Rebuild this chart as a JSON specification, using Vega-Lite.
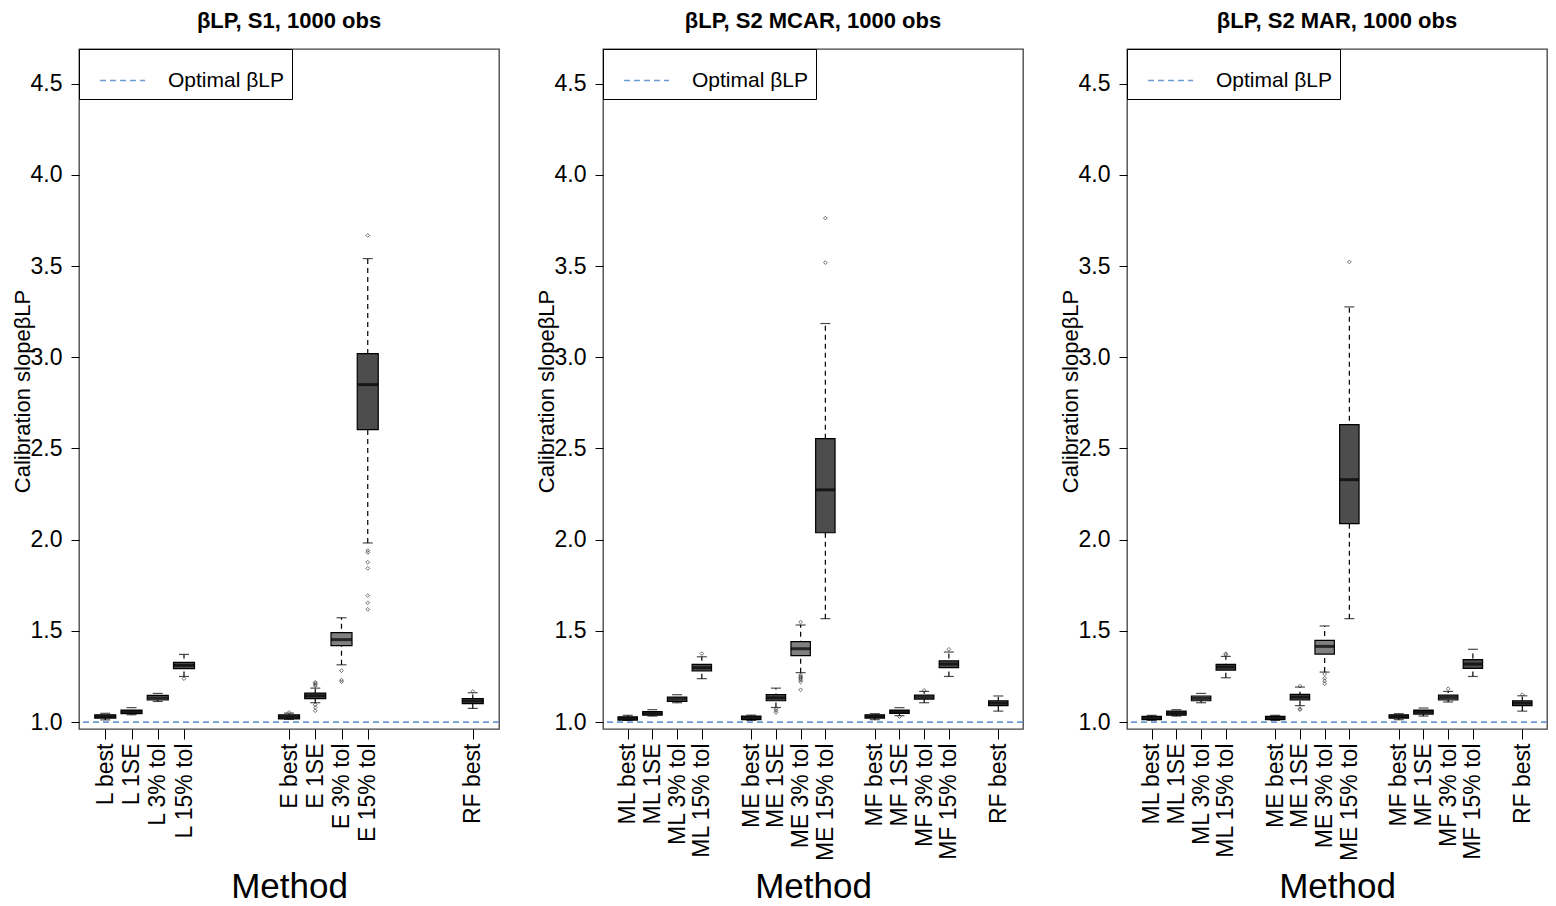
{
  "$schema": "https://vega.github.io/schema/vega-lite/v6.json",
  "background": "white",
  "padding": {"left": 10, "top": 8, "right": 5, "bottom": 0},
  "config": {
    "font": "Liberation Sans",
    "view": {"stroke": "#404040", "strokeWidth": 1.3},
    "axis": {"grid": false, "domain": false, "tickColor": "black", "tickWidth": 1, "labelColor": "black", "titleColor": "black", "labelFontSize": 23, "titleFontWeight": "normal", "labelFont": "Liberation Sans", "titleFont": "Liberation Sans"},
    "title": {"fontSize": 22, "fontWeight": "bold", "frame": "group", "color": "black", "offset": 16, "font": "Liberation Sans"}
  },
  "datasets": {
    "stats": [
      {"panel": "S1", "method": "L best", "lw": 1.012, "q1": 1.022, "med": 1.031, "q3": 1.040, "uw": 1.048},
      {"panel": "S1", "method": "L 1SE", "lw": 1.040, "q1": 1.046, "med": 1.057, "q3": 1.066, "uw": 1.079},
      {"panel": "S1", "method": "L 3% tol", "lw": 1.113, "q1": 1.121, "med": 1.133, "q3": 1.146, "uw": 1.157},
      {"panel": "S1", "method": "L 15% tol", "lw": 1.250, "q1": 1.293, "med": 1.311, "q3": 1.327, "uw": 1.371},
      {"panel": "S1", "method": "E best", "lw": 1.015, "q1": 1.018, "med": 1.029, "q3": 1.040, "uw": 1.049},
      {"panel": "S1", "method": "E 1SE", "lw": 1.106, "q1": 1.128, "med": 1.144, "q3": 1.159, "uw": 1.186},
      {"panel": "S1", "method": "E 3% tol", "lw": 1.314, "q1": 1.419, "med": 1.452, "q3": 1.490, "uw": 1.572},
      {"panel": "S1", "method": "E 15% tol", "lw": 1.982, "q1": 2.603, "med": 2.850, "q3": 3.020, "uw": 3.541},
      {"panel": "S1", "method": "RF best", "lw": 1.075, "q1": 1.101, "med": 1.115, "q3": 1.128, "uw": 1.161},
      {"panel": "MCAR", "method": "ML best", "lw": 1.009, "q1": 1.011, "med": 1.020, "q3": 1.029, "uw": 1.037},
      {"panel": "MCAR", "method": "ML 1SE", "lw": 1.033, "q1": 1.038, "med": 1.049, "q3": 1.058, "uw": 1.068},
      {"panel": "MCAR", "method": "ML 3% tol", "lw": 1.106, "q1": 1.113, "med": 1.126, "q3": 1.137, "uw": 1.150},
      {"panel": "MCAR", "method": "ML 15% tol", "lw": 1.238, "q1": 1.280, "med": 1.298, "q3": 1.316, "uw": 1.358},
      {"panel": "MCAR", "method": "ME best", "lw": 1.009, "q1": 1.013, "med": 1.024, "q3": 1.033, "uw": 1.038},
      {"panel": "MCAR", "method": "ME 1SE", "lw": 1.080, "q1": 1.117, "med": 1.133, "q3": 1.150, "uw": 1.186},
      {"panel": "MCAR", "method": "ME 3% tol", "lw": 1.271, "q1": 1.364, "med": 1.402, "q3": 1.441, "uw": 1.532},
      {"panel": "MCAR", "method": "ME 15% tol", "lw": 1.567, "q1": 2.038, "med": 2.273, "q3": 2.554, "uw": 3.185},
      {"panel": "MCAR", "method": "MF best", "lw": 1.013, "q1": 1.022, "med": 1.031, "q3": 1.040, "uw": 1.046},
      {"panel": "MCAR", "method": "MF 1SE", "lw": 1.035, "q1": 1.048, "med": 1.057, "q3": 1.066, "uw": 1.079},
      {"panel": "MCAR", "method": "MF 3% tol", "lw": 1.106, "q1": 1.126, "med": 1.137, "q3": 1.148, "uw": 1.168},
      {"panel": "MCAR", "method": "MF 15% tol", "lw": 1.250, "q1": 1.298, "med": 1.318, "q3": 1.336, "uw": 1.384},
      {"panel": "MCAR", "method": "RF best", "lw": 1.060, "q1": 1.090, "med": 1.104, "q3": 1.117, "uw": 1.143},
      {"panel": "MAR", "method": "ML best", "lw": 1.009, "q1": 1.013, "med": 1.022, "q3": 1.031, "uw": 1.037},
      {"panel": "MAR", "method": "ML 1SE", "lw": 1.033, "q1": 1.038, "med": 1.049, "q3": 1.060, "uw": 1.068},
      {"panel": "MAR", "method": "ML 3% tol", "lw": 1.106, "q1": 1.117, "med": 1.130, "q3": 1.143, "uw": 1.157},
      {"panel": "MAR", "method": "ML 15% tol", "lw": 1.243, "q1": 1.285, "med": 1.302, "q3": 1.316, "uw": 1.360},
      {"panel": "MAR", "method": "ME best", "lw": 1.009, "q1": 1.013, "med": 1.024, "q3": 1.031, "uw": 1.037},
      {"panel": "MAR", "method": "ME 1SE", "lw": 1.090, "q1": 1.121, "med": 1.137, "q3": 1.152, "uw": 1.192},
      {"panel": "MAR", "method": "ME 3% tol", "lw": 1.274, "q1": 1.373, "med": 1.415, "q3": 1.448, "uw": 1.527},
      {"panel": "MAR", "method": "ME 15% tol", "lw": 1.567, "q1": 2.088, "med": 2.329, "q3": 2.631, "uw": 3.276},
      {"panel": "MAR", "method": "MF best", "lw": 1.013, "q1": 1.022, "med": 1.031, "q3": 1.040, "uw": 1.046},
      {"panel": "MAR", "method": "MF 1SE", "lw": 1.033, "q1": 1.044, "med": 1.057, "q3": 1.066, "uw": 1.077},
      {"panel": "MAR", "method": "MF 3% tol", "lw": 1.110, "q1": 1.121, "med": 1.135, "q3": 1.148, "uw": 1.168},
      {"panel": "MAR", "method": "MF 15% tol", "lw": 1.250, "q1": 1.294, "med": 1.318, "q3": 1.342, "uw": 1.399},
      {"panel": "MAR", "method": "RF best", "lw": 1.060, "q1": 1.090, "med": 1.104, "q3": 1.117, "uw": 1.144}
    ],
    "outliers": [
      {"panel": "S1", "method": "L 15% tol", "value": 1.238},
      {"panel": "S1", "method": "E best", "value": 1.053},
      {"panel": "S1", "method": "E 1SE", "value": 1.218},
      {"panel": "S1", "method": "E 1SE", "value": 1.212},
      {"panel": "S1", "method": "E 1SE", "value": 1.205},
      {"panel": "S1", "method": "E 1SE", "value": 1.198},
      {"panel": "S1", "method": "E 1SE", "value": 1.095},
      {"panel": "S1", "method": "E 1SE", "value": 1.080},
      {"panel": "S1", "method": "E 1SE", "value": 1.062},
      {"panel": "S1", "method": "E 3% tol", "value": 1.282},
      {"panel": "S1", "method": "E 3% tol", "value": 1.230},
      {"panel": "S1", "method": "E 3% tol", "value": 1.221},
      {"panel": "S1", "method": "E 15% tol", "value": 3.668},
      {"panel": "S1", "method": "E 15% tol", "value": 1.940},
      {"panel": "S1", "method": "E 15% tol", "value": 1.930},
      {"panel": "S1", "method": "E 15% tol", "value": 1.876},
      {"panel": "S1", "method": "E 15% tol", "value": 1.843},
      {"panel": "S1", "method": "E 15% tol", "value": 1.693},
      {"panel": "S1", "method": "E 15% tol", "value": 1.654},
      {"panel": "S1", "method": "E 15% tol", "value": 1.618},
      {"panel": "S1", "method": "RF best", "value": 1.168},
      {"panel": "MCAR", "method": "ML 15% tol", "value": 1.375},
      {"panel": "MCAR", "method": "ME 1SE", "value": 1.073},
      {"panel": "MCAR", "method": "ME 1SE", "value": 1.063},
      {"panel": "MCAR", "method": "ME 1SE", "value": 1.053},
      {"panel": "MCAR", "method": "ME 3% tol", "value": 1.548},
      {"panel": "MCAR", "method": "ME 3% tol", "value": 1.258},
      {"panel": "MCAR", "method": "ME 3% tol", "value": 1.250},
      {"panel": "MCAR", "method": "ME 3% tol", "value": 1.244},
      {"panel": "MCAR", "method": "ME 3% tol", "value": 1.238},
      {"panel": "MCAR", "method": "ME 3% tol", "value": 1.230},
      {"panel": "MCAR", "method": "ME 3% tol", "value": 1.220},
      {"panel": "MCAR", "method": "ME 3% tol", "value": 1.177},
      {"panel": "MCAR", "method": "ME 15% tol", "value": 3.519},
      {"panel": "MCAR", "method": "ME 15% tol", "value": 3.763},
      {"panel": "MCAR", "method": "MF 1SE", "value": 1.030},
      {"panel": "MCAR", "method": "MF 3% tol", "value": 1.174},
      {"panel": "MCAR", "method": "MF 15% tol", "value": 1.399},
      {"panel": "MAR", "method": "ML 15% tol", "value": 1.375},
      {"panel": "MAR", "method": "ML 15% tol", "value": 1.369},
      {"panel": "MAR", "method": "ME 1SE", "value": 1.197},
      {"panel": "MAR", "method": "ME 1SE", "value": 1.073},
      {"panel": "MAR", "method": "ME 1SE", "value": 1.068},
      {"panel": "MAR", "method": "ME 3% tol", "value": 1.263},
      {"panel": "MAR", "method": "ME 3% tol", "value": 1.240},
      {"panel": "MAR", "method": "ME 3% tol", "value": 1.225},
      {"panel": "MAR", "method": "ME 3% tol", "value": 1.210},
      {"panel": "MAR", "method": "ME 15% tol", "value": 3.523},
      {"panel": "MAR", "method": "MF 3% tol", "value": 1.183},
      {"panel": "MAR", "method": "RF best", "value": 1.150}
    ],
    "optimal": [{"slope": 1.0}]
  },
  "hconcat": [
    {
      "width": 420, "height": 680,
      "title": {"text": "βLP, S1, 1000 obs"},
      "layer": [
        {
          "data": {"name": "optimal"},
          "mark": {"type": "rule", "stroke": "#6c9bd2", "strokeWidth": 1.8},
          "encoding": {
            "y": {"field": "slope", "type": "quantitative"},
            "strokeDash": {"datum": "Optimal βLP", "type": "nominal", "scale": {"range": [[6, 4]]},
              "legend": {"title": null, "orient": "top-left", "offset": 0, "strokeColor": "black", "fillColor": "white", "padding": 8, "labelFontSize": 21, "labelColor": "black", "labelOffset": 22, "symbolOffset": 12, "symbolType": "stroke", "symbolSize": 2025, "symbolStrokeWidth": 1.3, "symbolStrokeColor": "#6c9bd2", "symbolDash": [4, 3], "cornerRadius": 0}}
          }
        },
        {
          "data": {"name": "stats"},
          "transform": [{"filter": "datum.panel === 'S1'"}],
          "layer": [
            {
              "mark": {"type": "rule", "stroke": "black", "strokeDash": [5, 4], "strokeWidth": 1.2},
              "encoding": {
                "x": {"field": "method", "type": "nominal",
                  "scale": {"type": "point", "padding": 1.1, "domain": ["L best", "L 1SE", "L 3% tol", "L 15% tol", "_a", "_b", "_c", "E best", "E 1SE", "E 3% tol", "E 15% tol", "_d", "_e", "_f", "RF best"]},
                  "axis": {"values": ["L best", "L 1SE", "L 3% tol", "L 15% tol", "E best", "E 1SE", "E 3% tol", "E 15% tol", "RF best"], "labelAngle": -90, "tickSize": 10, "labelPadding": 4, "labelOverlap": false, "title": "Method", "titleFontSize": 35, "titleY": 168, "titleBaseline": "alphabetic", "titleAlign": "center"}},
                "y": {"field": "lw", "type": "quantitative",
                  "scale": {"domain": [0.962, 4.69], "nice": false, "zero": false},
                  "axis": {"values": [1, 1.5, 2, 2.5, 3, 3.5, 4, 4.5], "format": ".1f", "tickSize": 8, "labelPadding": 9, "title": "Calibration slopeβLP", "titleFontSize": 22, "titleX": -50, "titleY": 342, "titleAlign": "center", "titleBaseline": "alphabetic", "titleAngle": 270}},
                "y2": {"field": "uw"}
              }
            },
            {"mark": {"type": "tick", "color": "black", "size": 10, "thickness": 1.2},
             "encoding": {"x": {"field": "method", "type": "nominal"}, "y": {"field": "lw", "type": "quantitative"}}},
            {"mark": {"type": "tick", "color": "black", "size": 10, "thickness": 1.2},
             "encoding": {"x": {"field": "method", "type": "nominal"}, "y": {"field": "uw", "type": "quantitative"}}},
            {"mark": {"type": "bar", "width": 21, "stroke": "black", "strokeWidth": 1.2},
             "encoding": {"x": {"field": "method", "type": "nominal"}, "y": {"field": "q1", "type": "quantitative"}, "y2": {"field": "q3"},
               "fill": {"condition": {"test": "indexof(datum.method, '3%') >= 0", "value": "#808080"}, "value": "#4d4d4d"}}},
            {"mark": {"type": "tick", "color": "black", "size": 21, "thickness": 3},
             "encoding": {"x": {"field": "method", "type": "nominal"}, "y": {"field": "med", "type": "quantitative"}}}
          ]
        },
        {
          "data": {"name": "outliers"},
          "transform": [{"filter": "datum.panel === 'S1'"}],
          "mark": {"type": "point", "shape": "diamond", "filled": false, "size": 14, "stroke": "#333", "strokeWidth": 1},
          "encoding": {"x": {"field": "method", "type": "nominal"}, "y": {"field": "value", "type": "quantitative"}}
        }
      ]
    },
    {
      "width": 420, "height": 680,
      "title": {"text": "βLP, S2 MCAR, 1000 obs"},
      "layer": [
        {
          "data": {"name": "optimal"},
          "mark": {"type": "rule", "stroke": "#6c9bd2", "strokeWidth": 1.8},
          "encoding": {
            "y": {"field": "slope", "type": "quantitative"},
            "strokeDash": {"datum": "Optimal βLP", "type": "nominal", "scale": {"range": [[6, 4]]},
              "legend": {"title": null, "orient": "top-left", "offset": 0, "strokeColor": "black", "fillColor": "white", "padding": 8, "labelFontSize": 21, "labelColor": "black", "labelOffset": 22, "symbolOffset": 12, "symbolType": "stroke", "symbolSize": 2025, "symbolStrokeWidth": 1.3, "symbolStrokeColor": "#6c9bd2", "symbolDash": [4, 3], "cornerRadius": 0}}
          }
        },
        {
          "data": {"name": "stats"},
          "transform": [{"filter": "datum.panel === 'MCAR'"}],
          "layer": [
            {
              "mark": {"type": "rule", "stroke": "black", "strokeDash": [5, 4], "strokeWidth": 1.2},
              "encoding": {
                "x": {"field": "method", "type": "nominal",
                  "scale": {"type": "point", "padding": 1.14, "domain": ["ML best", "ML 1SE", "ML 3% tol", "ML 15% tol", "_a", "ME best", "ME 1SE", "ME 3% tol", "ME 15% tol", "_b", "MF best", "MF 1SE", "MF 3% tol", "MF 15% tol", "_c", "RF best"]},
                  "axis": {"values": ["ML best", "ML 1SE", "ML 3% tol", "ML 15% tol", "ME best", "ME 1SE", "ME 3% tol", "ME 15% tol", "MF best", "MF 1SE", "MF 3% tol", "MF 15% tol", "RF best"], "labelAngle": -90, "tickSize": 10, "labelPadding": 4, "labelOverlap": false, "title": "Method", "titleFontSize": 35, "titleY": 168, "titleBaseline": "alphabetic", "titleAlign": "center"}},
                "y": {"field": "lw", "type": "quantitative",
                  "scale": {"domain": [0.962, 4.69], "nice": false, "zero": false},
                  "axis": {"values": [1, 1.5, 2, 2.5, 3, 3.5, 4, 4.5], "format": ".1f", "tickSize": 8, "labelPadding": 9, "title": "Calibration slopeβLP", "titleFontSize": 22, "titleX": -50, "titleY": 342, "titleAlign": "center", "titleBaseline": "alphabetic", "titleAngle": 270}},
                "y2": {"field": "uw"}
              }
            },
            {"mark": {"type": "tick", "color": "black", "size": 10, "thickness": 1.2},
             "encoding": {"x": {"field": "method", "type": "nominal"}, "y": {"field": "lw", "type": "quantitative"}}},
            {"mark": {"type": "tick", "color": "black", "size": 10, "thickness": 1.2},
             "encoding": {"x": {"field": "method", "type": "nominal"}, "y": {"field": "uw", "type": "quantitative"}}},
            {"mark": {"type": "bar", "width": 19.4, "stroke": "black", "strokeWidth": 1.2},
             "encoding": {"x": {"field": "method", "type": "nominal"}, "y": {"field": "q1", "type": "quantitative"}, "y2": {"field": "q3"},
               "fill": {"condition": {"test": "indexof(datum.method, '3%') >= 0", "value": "#808080"}, "value": "#4d4d4d"}}},
            {"mark": {"type": "tick", "color": "black", "size": 19.4, "thickness": 3},
             "encoding": {"x": {"field": "method", "type": "nominal"}, "y": {"field": "med", "type": "quantitative"}}}
          ]
        },
        {
          "data": {"name": "outliers"},
          "transform": [{"filter": "datum.panel === 'MCAR'"}],
          "mark": {"type": "point", "shape": "diamond", "filled": false, "size": 14, "stroke": "#333", "strokeWidth": 1},
          "encoding": {"x": {"field": "method", "type": "nominal"}, "y": {"field": "value", "type": "quantitative"}}
        }
      ]
    },
    {
      "width": 420, "height": 680,
      "title": {"text": "βLP, S2 MAR, 1000 obs"},
      "layer": [
        {
          "data": {"name": "optimal"},
          "mark": {"type": "rule", "stroke": "#6c9bd2", "strokeWidth": 1.8},
          "encoding": {
            "y": {"field": "slope", "type": "quantitative"},
            "strokeDash": {"datum": "Optimal βLP", "type": "nominal", "scale": {"range": [[6, 4]]},
              "legend": {"title": null, "orient": "top-left", "offset": 0, "strokeColor": "black", "fillColor": "white", "padding": 8, "labelFontSize": 21, "labelColor": "black", "labelOffset": 22, "symbolOffset": 12, "symbolType": "stroke", "symbolSize": 2025, "symbolStrokeWidth": 1.3, "symbolStrokeColor": "#6c9bd2", "symbolDash": [4, 3], "cornerRadius": 0}}
          }
        },
        {
          "data": {"name": "stats"},
          "transform": [{"filter": "datum.panel === 'MAR'"}],
          "layer": [
            {
              "mark": {"type": "rule", "stroke": "black", "strokeDash": [5, 4], "strokeWidth": 1.2},
              "encoding": {
                "x": {"field": "method", "type": "nominal",
                  "scale": {"type": "point", "padding": 1.14, "domain": ["ML best", "ML 1SE", "ML 3% tol", "ML 15% tol", "_a", "ME best", "ME 1SE", "ME 3% tol", "ME 15% tol", "_b", "MF best", "MF 1SE", "MF 3% tol", "MF 15% tol", "_c", "RF best"]},
                  "axis": {"values": ["ML best", "ML 1SE", "ML 3% tol", "ML 15% tol", "ME best", "ME 1SE", "ME 3% tol", "ME 15% tol", "MF best", "MF 1SE", "MF 3% tol", "MF 15% tol", "RF best"], "labelAngle": -90, "tickSize": 10, "labelPadding": 4, "labelOverlap": false, "title": "Method", "titleFontSize": 35, "titleY": 168, "titleBaseline": "alphabetic", "titleAlign": "center"}},
                "y": {"field": "lw", "type": "quantitative",
                  "scale": {"domain": [0.962, 4.69], "nice": false, "zero": false},
                  "axis": {"values": [1, 1.5, 2, 2.5, 3, 3.5, 4, 4.5], "format": ".1f", "tickSize": 8, "labelPadding": 9, "title": "Calibration slopeβLP", "titleFontSize": 22, "titleX": -50, "titleY": 342, "titleAlign": "center", "titleBaseline": "alphabetic", "titleAngle": 270}},
                "y2": {"field": "uw"}
              }
            },
            {"mark": {"type": "tick", "color": "black", "size": 10, "thickness": 1.2},
             "encoding": {"x": {"field": "method", "type": "nominal"}, "y": {"field": "lw", "type": "quantitative"}}},
            {"mark": {"type": "tick", "color": "black", "size": 10, "thickness": 1.2},
             "encoding": {"x": {"field": "method", "type": "nominal"}, "y": {"field": "uw", "type": "quantitative"}}},
            {"mark": {"type": "bar", "width": 19.4, "stroke": "black", "strokeWidth": 1.2},
             "encoding": {"x": {"field": "method", "type": "nominal"}, "y": {"field": "q1", "type": "quantitative"}, "y2": {"field": "q3"},
               "fill": {"condition": {"test": "indexof(datum.method, '3%') >= 0", "value": "#808080"}, "value": "#4d4d4d"}}},
            {"mark": {"type": "tick", "color": "black", "size": 19.4, "thickness": 3},
             "encoding": {"x": {"field": "method", "type": "nominal"}, "y": {"field": "med", "type": "quantitative"}}}
          ]
        },
        {
          "data": {"name": "outliers"},
          "transform": [{"filter": "datum.panel === 'MAR'"}],
          "mark": {"type": "point", "shape": "diamond", "filled": false, "size": 14, "stroke": "#333", "strokeWidth": 1},
          "encoding": {"x": {"field": "method", "type": "nominal"}, "y": {"field": "value", "type": "quantitative"}}
        }
      ]
    }
  ],
  "spacing": 104,
  "bounds": "flush",
  "resolve": {"scale": {"x": "independent", "y": "independent", "strokeDash": "independent"}, "legend": {"strokeDash": "independent"}}
}
